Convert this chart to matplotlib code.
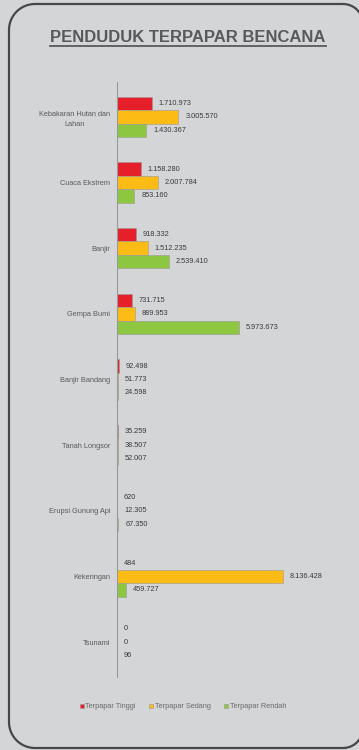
import matplotlib
matplotlib.use("Agg")
import matplotlib.pyplot as plt
from matplotlib.patches import PathPatch
from matplotlib.path import Path
from matplotlib.lines import Line2D
from matplotlib.transforms import Affine2D
import numpy as np

categories = ["Kebakaran Hutan dan\nLahan", "Cuaca Ekstrem", "Banjir", "Gempa Bumi",
              "Banjir Bandang", "Tanah Longsor", "Erupsi Gunung Api", "Kekeringan", "Tsunami"]
tinggi = [1710973, 1158280, 918332, 731715, 92498, 35259, 620, 484, 0]
sedang = [3005570, 2007784, 1512235, 889953, 51773, 38507, 12305, 8136428, 0]
rendah = [1430367, 853160, 2539410, 5973673, 24598, 52007, 67350, 459727, 96]
series_names = ["Terpapar Tinggi", "Terpapar Sedang", "Terpapar Rendah"]
colors = ["#e5202a", "#fdbb16", "#8dc640"]

bg = "#d4d5d7"
plt.rcParams['font.family'] = ["Liberation Sans", "DejaVu Sans"]

W, H = 359, 750
fig = plt.figure(figsize=(W / 100, H / 100), dpi=100, facecolor=bg)

# frame with rounded corners, in pixels from the top-left (right side just off the image)
def rounded_frame(x0, y0, x1, y1, r_left, r_right):
    pts = []
    def arc(cx, cy, r, a0, a1):
        for a in np.linspace(np.radians(a0), np.radians(a1), 20):
            pts.append((cx + r * np.cos(a), cy + r * np.sin(a)))
    arc(x0 + r_left, y0 + r_left, r_left, 180, 270)       # top-left
    arc(x1 - r_right, y0 + r_right, r_right, 270, 360)    # top-right
    arc(x1 - r_right, y1 - r_right, r_right, 0, 90)       # bottom-right
    arc(x0 + r_left, y1 - r_left, r_left, 90, 180)        # bottom-left
    pts.append(pts[0])
    return Path(pts)

px = Affine2D().scale(1 / W, -1 / H).translate(0, 1) + fig.transFigure
frame = PathPatch(rounded_frame(9, 4, 363, 748, 26, 20), transform=px,
                  facecolor="none", edgecolor="#474747", linewidth=1.6, zorder=5)
fig.patches.append(frame)

title = fig.text(188 / W, 1 - 37 / H, "PENDUDUK TERPAPAR BENCANA", ha="center", va="center",
                 fontsize=12, fontweight="bold", color="#58595b")

ax = fig.add_axes([117 / W, 1 - 677 / H, 223 / W, 595 / H])
ax.set_facecolor("none")

y = np.arange(len(categories))
h = 0.205
for k, (vals, col) in enumerate(zip([tinggi, sedang, rendah], colors)):
    pos = y + (k - 1) * h
    ax.barh(pos, vals, height=h, color=col, edgecolor="#9a9a9a", linewidth=0.4,
            label=series_names[k])
    for p, v in zip(pos, vals):
        txt = f"{v:,}".replace(",", ".")
        ax.annotate(txt, (v, p), xytext=(5, 0), textcoords="offset points",
                    ha="left", va="center", fontsize=5.3, color="#3a3a3a")

ax.set_xlim(0, 10.93e6)
ax.set_ylim(len(categories) - 0.47, -0.53)
ax.set_yticks(y)
ax.set_yticklabels(categories, fontsize=5.3, color="#5a5a5a", linespacing=1.6,
                   multialignment="center")
ax.tick_params(axis="y", length=0, pad=5)
ax.set_xticks([])
for s in ["top", "right", "bottom"]:
    ax.spines[s].set_visible(False)
ax.spines["left"].set_color("#9a9a9a")
ax.spines["left"].set_linewidth(0.8)

leg = fig.legend(loc="center", bbox_to_anchor=(183 / W, 1 - 707 / H), ncol=3,
                 frameon=False, fontsize=5.3, handlelength=0.6, handleheight=0.6,
                 handletextpad=0.2, columnspacing=1.8)
for t in leg.get_texts():
    t.set_color("#6a6a6a")

# underline the title
fig.canvas.draw()
bb = title.get_window_extent()
uy = (bb.y0 - 1.5) / H
fig.add_artist(Line2D([bb.x0 / W, bb.x1 / W], [uy, uy], transform=fig.transFigure,
                      color="#58595b", linewidth=1.3))

fig.savefig("out.png", dpi=100, facecolor=bg)
